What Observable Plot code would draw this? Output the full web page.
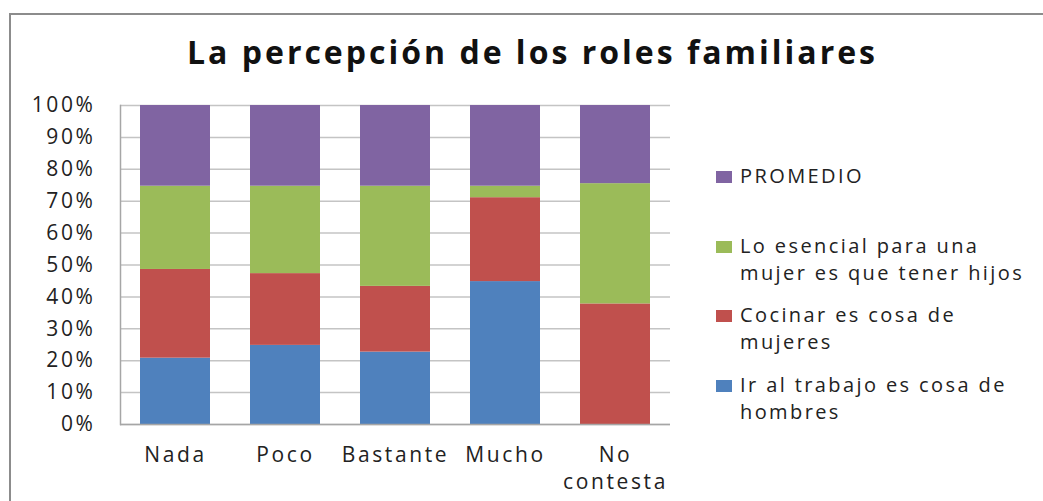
<!DOCTYPE html>
<html>
<head>
<meta charset="utf-8">
<script src="https://cdn.jsdelivr.net/npm/d3@7"></script>
<script src="https://cdn.jsdelivr.net/npm/@observablehq/plot@0.6"></script>
<style>
  html, body { margin: 0; padding: 0; background: #fff; }
  #wrap { position: relative; width: 1043px; height: 501px; overflow: hidden; font-family: "Open Sans", sans-serif; }
  #border { position: absolute; left: 9px; top: 13px; width: 1100px; height: 600px; border-left: 2px solid #8c8c8c; border-top: 2px solid #8c8c8c; }
  #title { position: absolute; left: 187px; top: 32px; font-size: 32px; font-weight: 700; color: #111; letter-spacing: 3px; line-height: 40px; white-space: nowrap; }
  #chart { position: absolute; left: 0; top: 0; }
  #legend { position: absolute; left: 716px; top: 162px; font-size: 20px; color: #222; letter-spacing: 2.4px; }
  .item { height: 69.5px; display: flex; align-items: flex-start; }
  .sw { width: 16px; height: 12px; margin-top: 9px; margin-right: 8px; flex: none; }
  .lab { line-height: 27px; white-space: pre-line; }
</style>
</head>
<body>
<div id="wrap">
  <div id="border"></div>
  <div id="chart"></div>
  <div id="title"></div>
  <div id="legend"></div>
</div>
<script>
const titleText = "La percepción de los roles familiares";
const categories = ["Nada", "Poco", "Bastante", "Mucho", "No contesta"];
const series = [
  "Ir al trabajo es cosa de hombres",
  "Cocinar es cosa de mujeres",
  "Lo esencial para una mujer es que tener hijos",
  "PROMEDIO"
];
const legendLabels = [
  "Ir al trabajo es cosa de\nhombres",
  "Cocinar es cosa de\nmujeres",
  "Lo esencial para una\nmujer es que tener hijos",
  "PROMEDIO"
];
const irTrabajo = [20.8, 24.8, 22.7, 44.8, 0];
const cocinar   = [27.8, 22.5, 20.6, 26.3, 37.8];
const esencial  = [26.1, 27.4, 31.4, 3.6, 37.7];
const promedio  = [25.3, 25.3, 25.3, 25.3, 24.5];
const colors = ["#4F81BD", "#C0504D", "#9BBB59", "#8064A2"];
const yTicks = [0, 10, 20, 30, 40, 50, 60, 70, 80, 90, 100];
const xTickLabels = ["Nada", "Poco", "Bastante", "Mucho", "No\ncontesta"];

const seriesValues = [irTrabajo, cocinar, esencial, promedio];
const data = [];
series.forEach((s, si) => {
  categories.forEach((c, ci) => {
    data.push({cat: c, serie: s, value: seriesValues[si][ci]});
  });
});

const chart = Plot.plot({
  width: 1043,
  height: 501,
  marginLeft: 120,
  marginRight: 373,
  marginTop: 105,
  marginBottom: 77,
  style: {fontFamily: "Open Sans, sans-serif", fontSize: "21px", color: "#222", background: "transparent", letterSpacing: "2.6px"},
  x: {domain: categories, paddingInner: 0.364, paddingOuter: 0.182, label: null},
  y: {domain: [0, 100], label: null},
  color: {domain: series, range: colors},
  marks: [
    Plot.gridY(yTicks, {stroke: "#c4c4c4", strokeOpacity: 1, strokeWidth: 1.5}),
    Plot.barY(data, Plot.stackY({x: "cat", y: "value", fill: "serie", order: series})),
    Plot.frame({anchor: "left", stroke: "#a6a6a6", strokeWidth: 1.5}),
    Plot.ruleY([0], {stroke: "#a6a6a6", strokeWidth: 1.5}),
    Plot.axisY({ticks: yTicks, tickSize: 0, tickPadding: 25, tickFormat: d => d + "%", fontSize: 21}),
    Plot.axisX({tickSize: 0, tickPadding: 18, tickFormat: (d) => xTickLabels[categories.indexOf(d)], lineHeight: 1.3, fontSize: 21})
  ]
});
document.getElementById("chart").appendChild(chart);
document.getElementById("title").textContent = titleText;

const legend = document.getElementById("legend");
for (let i = series.length - 1; i >= 0; i--) {
  const item = document.createElement("div");
  item.className = "item";
  const sw = document.createElement("div");
  sw.className = "sw";
  sw.style.background = colors[i];
  const lab = document.createElement("div");
  lab.className = "lab";
  lab.textContent = legendLabels[i];
  item.appendChild(sw);
  item.appendChild(lab);
  legend.appendChild(item);
}
</script>
</body>
</html>
